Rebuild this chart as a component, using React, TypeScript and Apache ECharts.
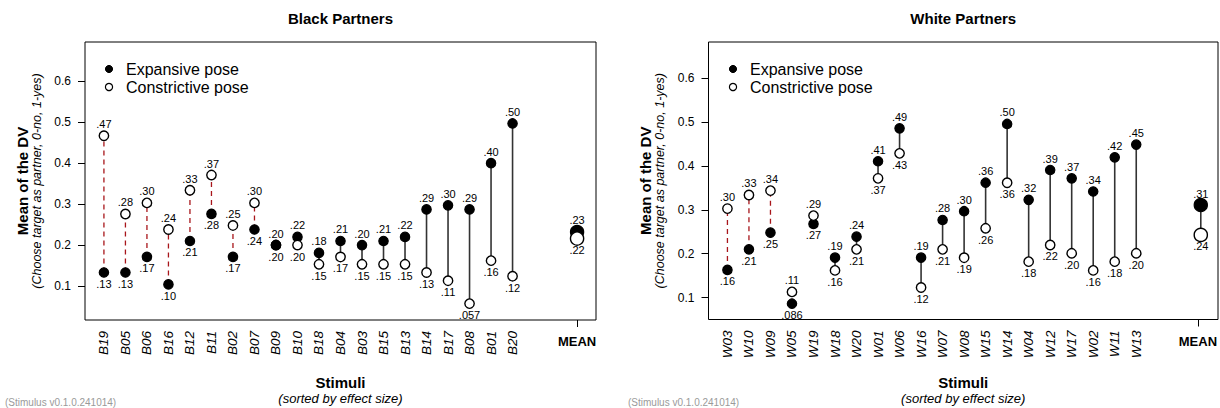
import { useEffect, useRef } from "react";
import * as echarts from "echarts";

const FONT = "'Liberation Sans', Arial, Helvetica, sans-serif";

// ---- Data ----
const blackStimuli = ["B19", "B05", "B06", "B16", "B12", "B11", "B02", "B07", "B09", "B10", "B18", "B04", "B03", "B15", "B13", "B14", "B17", "B08", "B01", "B20"];
const blackExpansive = [0.133, 0.133, 0.171, 0.104, 0.21, 0.276, 0.171, 0.238, 0.2, 0.22, 0.181, 0.21, 0.2, 0.21, 0.22, 0.287, 0.297, 0.287, 0.4, 0.497];
const blackConstrictive = [0.467, 0.276, 0.303, 0.238, 0.334, 0.371, 0.248, 0.303, 0.2, 0.2, 0.153, 0.171, 0.153, 0.153, 0.153, 0.133, 0.113, 0.057, 0.162, 0.124];
const blackMeanExpansive = 0.232;
const blackMeanConstrictive = 0.216;

const whiteStimuli = ["W03", "W10", "W09", "W05", "W19", "W18", "W20", "W01", "W06", "W16", "W07", "W08", "W15", "W14", "W04", "W12", "W17", "W02", "W11", "W13"];
const whiteExpansive = [0.163, 0.21, 0.248, 0.086, 0.268, 0.191, 0.239, 0.411, 0.486, 0.191, 0.277, 0.297, 0.362, 0.496, 0.323, 0.391, 0.372, 0.342, 0.42, 0.449];
const whiteConstrictive = [0.303, 0.334, 0.344, 0.113, 0.287, 0.162, 0.21, 0.372, 0.429, 0.123, 0.21, 0.191, 0.258, 0.362, 0.182, 0.22, 0.201, 0.162, 0.182, 0.201];
const whiteMeanExpansive = 0.311;
const whiteMeanConstrictive = 0.243;

const yTickMin = 0.1;
const yTickMax = 0.6;
const yTickStep = 0.1;

// ---- Layout ----
const PANELS = [
  {
    title: "Black Partners",
    stimuli: blackStimuli, exp: blackExpansive, con: blackConstrictive,
    meanE: blackMeanExpansive, meanC: blackMeanConstrictive,
    left: 85, right: 596, top: 42, bottom: 320,
    xMin: 0.12, xMax: 23.88, yMin: 0.017, yMax: 0.696,
    yTitleX: 22, legendX: 109, footX: 5,
  },
  {
    title: "White Partners",
    stimuli: whiteStimuli, exp: whiteExpansive, con: whiteConstrictive,
    meanE: whiteMeanExpansive, meanC: whiteMeanConstrictive,
    left: 708.5, right: 1218, top: 42, bottom: 319.5,
    xMin: 0.12, xMax: 23.8, yMin: 0.05, yMax: 0.683,
    yTitleX: 645, legendX: 733, footX: 628,
  },
];

const RED = "#a8161b";
const fmt = (v: number) => (v < 0.1 ? v.toPrecision(2) : v.toFixed(2)).replace(/^0/, "");

function renderItem(params: any, api: any) {
  const x = api.value(0);
  const e = api.value(1);
  const c = api.value(2);
  const isMean = api.value(3) === 1;
  const pe = api.coord([x, e]);
  const pc = api.coord([x, c]);
  const r = isMean ? 6.6 : 4.7;
  const neg = c > e;
  const children: any[] = [];
  children.push({
    type: "line",
    shape: { x1: pe[0], y1: pe[1], x2: pc[0], y2: pc[1] },
    style: neg
      ? { stroke: RED, lineWidth: 1.3, lineDash: [5, 4] }
      : { stroke: "#333", lineWidth: 1.6 },
  });
  const filled = { type: "circle", shape: { cx: pe[0], cy: pe[1], r }, style: { fill: "#000", stroke: "#000", lineWidth: 1.2 } };
  const open = { type: "circle", shape: { cx: pc[0], cy: pc[1], r }, style: { fill: "#fff", stroke: "#000", lineWidth: 1.4 } };
  if (e === c) children.push(open, filled);
  else children.push(filled, open);
  const topIsE = e >= c;
  const topP = topIsE ? pe : pc;
  const botP = topIsE ? pc : pe;
  const textStyle = { font: `11px ${FONT}`, fill: "#000", align: "center", verticalAlign: "middle", textAlign: "center", textVerticalAlign: "middle" };
  children.push({ type: "text", style: { ...textStyle, text: fmt(topIsE ? e : c), x: topP[0], y: topP[1] - 11.5 } });
  children.push({ type: "text", style: { ...textStyle, text: fmt(topIsE ? c : e), x: botP[0], y: botP[1] + 11.5 } });
  return { type: "group", children };
}

function buildOption() {
  const grid: any[] = [];
  const xAxis: any[] = [];
  const yAxis: any[] = [];
  const series: any[] = [];
  const graphic: any[] = [];

  PANELS.forEach((P, p) => {
    const g = p * 4;
    const w = P.right - P.left;
    const h = P.bottom - P.top;
    const cats = [...P.stimuli, "", "", "MEAN"];
    const tickTop = P.top + ((P.yMax - yTickMax) / (P.yMax - P.yMin)) * h;
    const tickH = ((yTickMax - yTickMin) / (P.yMax - P.yMin)) * h;
    const labLeft = P.left + ((0.5 - P.xMin) / (P.xMax - P.xMin)) * w;
    const labW = (cats.length / (P.xMax - P.xMin)) * w;

    grid.push(
      { left: P.left, top: P.top, width: w, height: h, show: true, borderColor: "#000", borderWidth: 1, backgroundColor: "transparent" },
      { left: P.left, top: tickTop, width: w, height: tickH },
      { left: labLeft, top: P.top, width: labW, height: h },
      { left: labLeft, top: P.top, width: labW, height: h }
    );
    xAxis.push(
      { gridIndex: g, type: "value", min: P.xMin, max: P.xMax, show: false },
      { gridIndex: g + 1, type: "value", min: 0, max: 1, show: false },
      {
        gridIndex: g + 2, type: "category", data: cats, position: "bottom", boundaryGap: true,
        axisLine: { show: false }, axisTick: { show: false },
        axisLabel: {
          interval: 0, rotate: 90, fontStyle: "italic", fontSize: 13.5, margin: 11, color: "#000", fontFamily: FONT,
          formatter: (v: string) => (v === "MEAN" ? "" : v),
        },
      },
      {
        gridIndex: g + 3, type: "category", data: cats, position: "bottom", boundaryGap: true,
        axisLine: { show: false },
        axisTick: { show: true, alignWithLabel: true, length: 7, interval: (_i: number, v: string) => v === "MEAN", lineStyle: { color: "#000", width: 1 } },
        axisLabel: {
          interval: 0, fontWeight: "bold", fontSize: 13, margin: 15, color: "#000", fontFamily: FONT,
          formatter: (v: string) => (v === "MEAN" ? v : ""),
        },
      }
    );
    yAxis.push(
      { gridIndex: g, type: "value", min: P.yMin, max: P.yMax, show: false },
      {
        gridIndex: g + 1, type: "value", min: yTickMin, max: yTickMax, interval: yTickStep,
        axisLine: { show: false },
        axisTick: { show: true, length: 7, lineStyle: { color: "#000", width: 1 } },
        axisLabel: { fontSize: 12, margin: 14, color: "#000", fontFamily: FONT, formatter: (v: number) => v.toFixed(1) },
        splitLine: { show: false },
      },
      { gridIndex: g + 2, type: "value", show: false },
      { gridIndex: g + 3, type: "value", show: false }
    );

    const data = P.stimuli.map((_s, i) => [i + 1, P.exp[i], P.con[i], 0]);
    data.push([cats.length, P.meanE, P.meanC, 1]);
    series.push({
      type: "custom", xAxisIndex: g, yAxisIndex: g, renderItem, data,
      encode: { x: 0, y: [1, 2] }, clip: false, z: 5,
    });

    const cx = (P.left + P.right) / 2;
    const cy = (P.top + P.bottom) / 2;
    graphic.push(
      { type: "text", x: cx, y: 18, style: { text: P.title, font: `bold 15px ${FONT}`, fill: "#000", align: "center", verticalAlign: "middle", textAlign: "center", textVerticalAlign: "middle" } },
      { type: "text", x: cx, y: 382, style: { text: "Stimuli", font: `bold 15px ${FONT}`, fill: "#000", align: "center", verticalAlign: "middle", textAlign: "center", textVerticalAlign: "middle" } },
      { type: "text", x: cx, y: 398, style: { text: "(sorted by effect size)", font: `italic 13px ${FONT}`, fill: "#000", align: "center", verticalAlign: "middle", textAlign: "center", textVerticalAlign: "middle" } },
      { type: "text", x: P.yTitleX, y: cy, rotation: Math.PI / 2, style: { text: "Mean of the DV", font: `bold 15px ${FONT}`, fill: "#000", align: "center", verticalAlign: "middle", textAlign: "center", textVerticalAlign: "middle" } },
      { type: "text", x: P.yTitleX + 15, y: cy, rotation: Math.PI / 2, style: { text: "(Choose target as partner, 0-no, 1-yes)", font: `italic 12.5px ${FONT}`, fill: "#000", align: "center", verticalAlign: "middle", textAlign: "center", textVerticalAlign: "middle" } },
      { type: "circle", shape: { cx: P.legendX, cy: 69, r: 3.6 }, style: { fill: "#000", stroke: "#000", lineWidth: 1 } },
      { type: "circle", shape: { cx: P.legendX, cy: 87, r: 3.6 }, style: { fill: "#fff", stroke: "#000", lineWidth: 1.2 } },
      { type: "text", x: P.legendX + 17, y: 69, style: { text: "Expansive pose", font: `16px ${FONT}`, fill: "#000", align: "left", verticalAlign: "middle", textAlign: "left", textVerticalAlign: "middle" } },
      { type: "text", x: P.legendX + 17, y: 87, style: { text: "Constrictive pose", font: `16px ${FONT}`, fill: "#000", align: "left", verticalAlign: "middle", textAlign: "left", textVerticalAlign: "middle" } },
      { type: "text", x: P.footX, y: 402, style: { text: "(Stimulus v0.1.0.241014)", font: `10px ${FONT}`, fill: "#9a9a9a", align: "left", verticalAlign: "middle", textAlign: "left", textVerticalAlign: "middle" } }
    );
  });

  return { animation: false, backgroundColor: "#fff", grid, xAxis, yAxis, series, graphic };
}

export default function App() {
  const ref = useRef<HTMLDivElement>(null);
  useEffect(() => {
    if (!ref.current) return;
    const chart = echarts.init(ref.current, null, { renderer: "svg" });
    chart.setOption(buildOption() as any);
    return () => chart.dispose();
  }, []);
  return <div ref={ref} style={{ position: "fixed", left: 0, top: 0, width: 1220, height: 408 }} />;
}
